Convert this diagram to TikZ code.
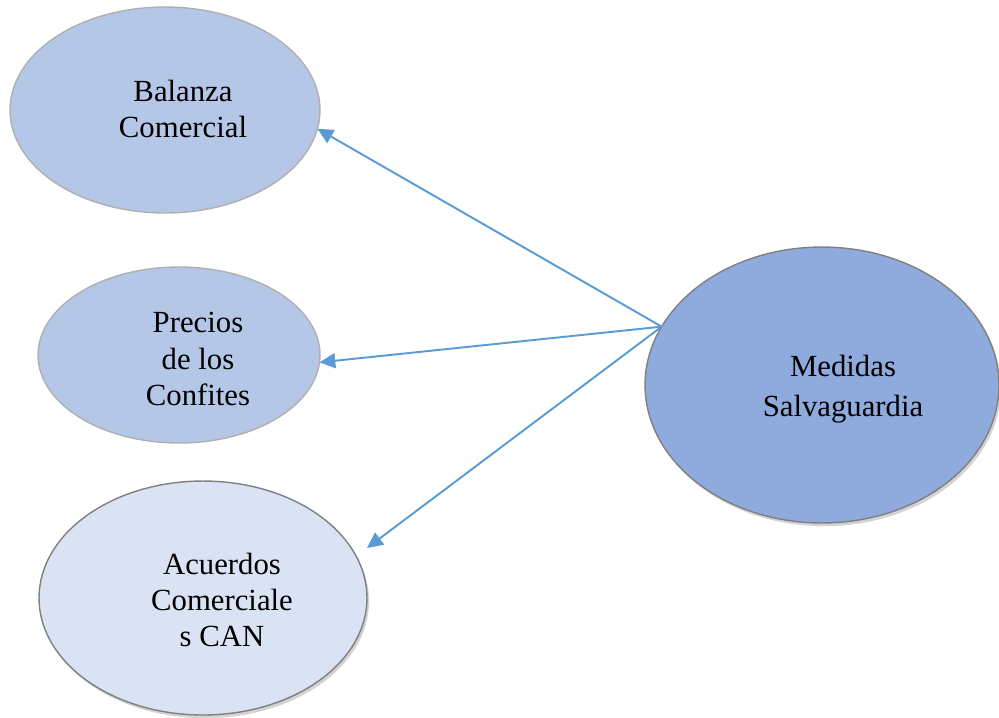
\documentclass[tikz,border=0pt]{standalone}
\usepackage{fontspec}
\setmainfont{Liberation Serif}
\usetikzlibrary{arrows.meta}
\usetikzlibrary{shapes}
\usetikzlibrary{shadows}
\definecolor{azulA}{HTML}{B4C7E7}
\definecolor{azulB}{HTML}{DAE3F3}
\definecolor{azulC}{HTML}{8FAADC}
\definecolor{flecha}{HTML}{5B9BD5}
\definecolor{borde}{HTML}{B0B0B0}

\begin{document}
\begin{tikzpicture}[x=0.02cm, y=-0.02cm,
  elipse/.style={ellipse, draw=borde, line width=0.8pt, inner sep=0pt, outer sep=0pt},
  sombra/.style={drop shadow={shadow xshift=1.2pt, shadow yshift=-1.8pt, opacity=0.35}},
  texto/.style={align=center, font=\fontsize{17.5}{20.6}\selectfont},
  >={Triangle[length=9pt,width=8.5pt]}]
\useasboundingbox (0,0) rectangle (999,717);
\node[elipse, fill=azulA, minimum width=6.2cm, minimum height=4.12cm] (bal) at (165,110) {};
\node[elipse, fill=azulA, minimum width=5.64cm, minimum height=3.52cm] (pre) at (179,355) {};
\node[elipse, fill=azulB, sombra, draw=gray, minimum width=6.56cm, minimum height=4.68cm] (acu) at (203,598) {};
\node[elipse, fill=azulC, sombra, draw=gray, minimum width=7.08cm, minimum height=5.52cm] (med) at (822,385) {};
\node[texto] (balTxt) at (183,109) {Balanza\\Comercial};
\node[texto] (preTxt) at (198,359) {Precios\\de los\\Confites};
\node[texto] (acuTxt) at (222,600) {Acuerdos\\Comerciale\\s CAN};
\node[texto, font=\fontsize{17.5}{22.5}\selectfont] (medTxt) at (843,389) {Medidas\\Salvaguardia};
\coordinate (salida) at (med.160);
\coordinate (puntaAcu) at (367,548);
%\draw[->] (med) -- (bal);
\draw[->, flecha, line width=1.1pt] (salida) -- (bal.-7);
\draw[->, flecha, line width=1.1pt] (salida) -- (pre.-3);
\draw[->, flecha, line width=1.1pt] (salida) -- (puntaAcu);
\end{tikzpicture}
\end{document}
